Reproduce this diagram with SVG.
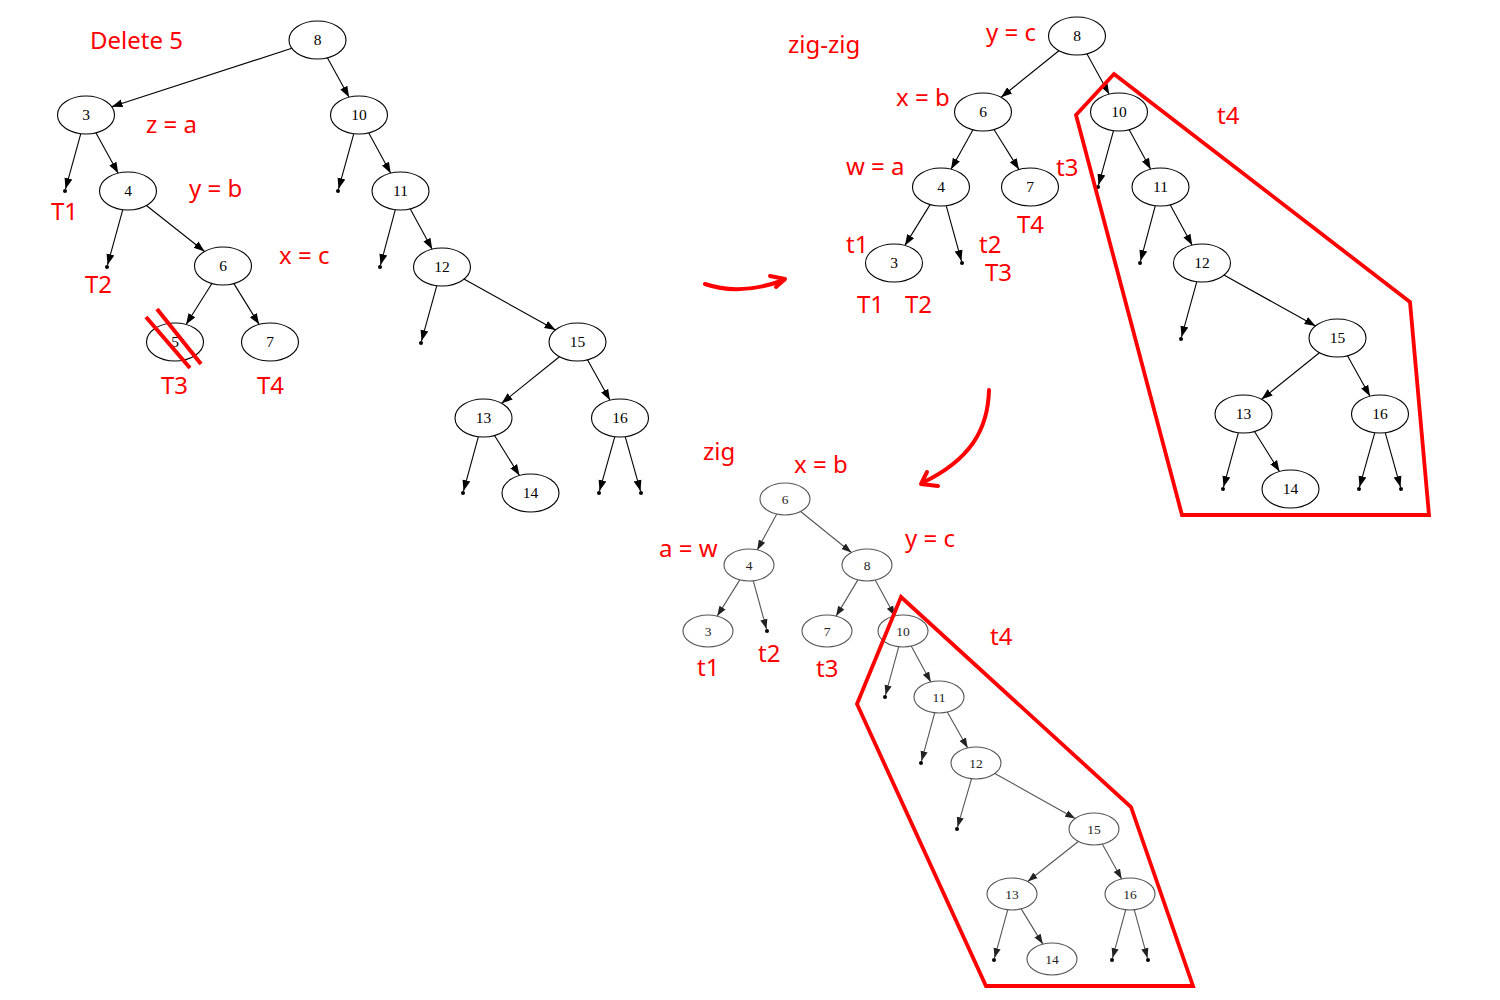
<svg xmlns="http://www.w3.org/2000/svg" width="1500" height="1000" viewBox="0 0 1500 1000">
<style>
.n ellipse{fill:#fff;stroke:#000;stroke-width:1.1}
.n text{font-family:"Liberation Serif","Times New Roman",serif;font-size:15.5px;text-anchor:middle;fill:#000}
.g ellipse{fill:#fff;stroke:#555;stroke-width:1.1}
.g text{font-family:"Liberation Serif","Times New Roman",serif;font-size:13.5px;text-anchor:middle;fill:#222}
.e{stroke:#000;stroke-width:1.1;fill:none;marker-end:url(#ah)}
.eg{stroke:#555;stroke-width:1.1;fill:none;marker-end:url(#ahg)}
.dot{fill:#000}
.lbl{font-family:"Noto Sans","Open Sans","DejaVu Sans",sans-serif;font-size:24px;fill:#ff0000}
.red{stroke:#ff0000;stroke-width:3.8;fill:none;stroke-linejoin:miter}
.rarr{stroke:#ff0000;stroke-width:4;fill:none;stroke-linecap:round;stroke-linejoin:round}
</style>
<defs>
<marker id="ah" markerUnits="userSpaceOnUse" markerWidth="13" markerHeight="10" viewBox="0 -5 13 10" refX="11" refY="0" orient="auto">
<path d="M0,-4 L11,0 L0,4 z" fill="#000"/>
</marker>
<marker id="ahg" markerUnits="userSpaceOnUse" markerWidth="12" markerHeight="10" viewBox="0 -5 12 10" refX="10" refY="0" orient="auto">
<path d="M0,-3.6 L10,0 L0,3.6 z" fill="#222"/>
</marker>
</defs>
<rect width="1500" height="1000" fill="#fff"/>

<!-- ===== Tree A (left) ===== -->
<g id="edgesA">
<line class="e" x1="291.9" y1="48.3" x2="111.6" y2="106.7"/>
<line class="e" x1="327.4" y1="57.8" x2="349.1" y2="97.2"/>
<line class="e" x1="80.8" y1="133.7" x2="65.5" y2="189.1"/>
<line class="e" x1="95.9" y1="132.8" x2="118.2" y2="173.2"/>
<line class="e" x1="122.8" y1="209.7" x2="107.5" y2="265.1"/>
<line class="e" x1="146.4" y1="205.5" x2="204.6" y2="251.5"/>
<line class="e" x1="211.9" y1="283.5" x2="186.1" y2="324.5"/>
<line class="e" x1="233.9" y1="283.6" x2="259.1" y2="324.4"/>
<line class="e" x1="353.8" y1="133.7" x2="338.5" y2="189.1"/>
<line class="e" x1="368.8" y1="132.9" x2="390.7" y2="173.2"/>
<line class="e" x1="395.3" y1="209.7" x2="380.5" y2="265.1"/>
<line class="e" x1="410.3" y1="208.9" x2="432.2" y2="249.2"/>
<line class="e" x1="436.8" y1="285.7" x2="421.5" y2="341.1"/>
<line class="e" x1="463.9" y1="279.1" x2="555.6" y2="329.9"/>
<line class="e" x1="559.4" y1="356.7" x2="501.6" y2="403.3"/>
<line class="e" x1="587.5" y1="359.8" x2="610" y2="400.2"/>
<line class="e" x1="478.4" y1="436.7" x2="463.5" y2="491.1"/>
<line class="e" x1="494.5" y1="435.5" x2="519.5" y2="475.5"/>
<line class="e" x1="614.8" y1="436.7" x2="599.5" y2="491.1"/>
<line class="e" x1="625.2" y1="436.7" x2="640.5" y2="491.1"/>
<circle class="dot" cx="65" cy="191" r="2"/>
<circle class="dot" cx="107" cy="267" r="2"/>
<circle class="dot" cx="338" cy="191" r="2"/>
<circle class="dot" cx="380" cy="267" r="2"/>
<circle class="dot" cx="421" cy="343" r="2"/>
<circle class="dot" cx="463" cy="493" r="2"/>
<circle class="dot" cx="599" cy="493" r="2"/>
<circle class="dot" cx="641" cy="493" r="2"/>
</g>
<g id="a8" class="n"><ellipse cx="317.5" cy="40" rx="28.5" ry="19"/><text x="317.5" y="45.3">8</text></g>
<g id="a3" class="n"><ellipse cx="86" cy="115" rx="28.5" ry="19"/><text x="86" y="120.3">3</text></g>
<g id="a10" class="n"><ellipse cx="359" cy="115" rx="28.5" ry="19"/><text x="359" y="120.3">10</text></g>
<g id="a4" class="n"><ellipse cx="128" cy="191" rx="28.5" ry="19"/><text x="128" y="196.3">4</text></g>
<g id="a11" class="n"><ellipse cx="400.5" cy="191" rx="28.5" ry="19"/><text x="400.5" y="196.3">11</text></g>
<g id="a6" class="n"><ellipse cx="223" cy="266" rx="28.5" ry="19"/><text x="223" y="271.3">6</text></g>
<g id="a12" class="n"><ellipse cx="442" cy="267" rx="28.5" ry="19"/><text x="442" y="272.3">12</text></g>
<g id="a5" class="n"><ellipse cx="175" cy="342" rx="28.5" ry="19"/><text x="175" y="347.3">5</text></g>
<g id="a7" class="n"><ellipse cx="270" cy="342" rx="28.5" ry="19"/><text x="270" y="347.3">7</text></g>
<g id="a15" class="n"><ellipse cx="577.5" cy="342" rx="28.5" ry="19"/><text x="577.5" y="347.3">15</text></g>
<g id="a13" class="n"><ellipse cx="483.5" cy="418" rx="28.5" ry="19"/><text x="483.5" y="423.3">13</text></g>
<g id="a16" class="n"><ellipse cx="620" cy="418" rx="28.5" ry="19"/><text x="620" y="423.3">16</text></g>
<g id="a14" class="n"><ellipse cx="530.5" cy="493" rx="28.5" ry="19"/><text x="530.5" y="498.3">14</text></g>

<g id="strike5">
<line class="rarr" style="stroke-linecap:butt" x1="146" y1="317" x2="190" y2="368"/>
<line class="rarr" style="stroke-linecap:butt" x1="157" y1="309" x2="201" y2="364"/>
</g>

<g id="labelsA">
<text class="lbl" x="90" y="49">Delete 5</text>
<text class="lbl" x="146" y="133">z = a</text>
<text class="lbl" x="189" y="197">y = b</text>
<text class="lbl" x="51" y="220">T1</text>
<text class="lbl" x="85" y="293">T2</text>
<text class="lbl" x="279" y="264">x = c</text>
<text class="lbl" x="161" y="394">T3</text>
<text class="lbl" x="257" y="394">T4</text>
</g>

<!-- ===== Red transition arrows ===== -->
<g id="arrows">
<path class="rarr" d="M705,284 Q740,296 784,280"/>
<path class="rarr" d="M770,276 L785,279 L776,287"/>
<path class="rarr" d="M989,390 C988,430 970,460 922,483"/>
<path class="rarr" d="M927,472 L921,484 L938,486"/>
</g>

<!-- ===== Tree B (top right, zig-zig) ===== -->
<g id="edgesB">
<line class="e" x1="1058.9" y1="50.7" x2="1001.1" y2="97.3"/>
<line class="e" x1="1086.9" y1="53.8" x2="1109.2" y2="94.2"/>
<line class="e" x1="973" y1="129.8" x2="951" y2="169.2"/>
<line class="e" x1="994" y1="129.5" x2="1019" y2="169.5"/>
<line class="e" x1="930.1" y1="204.6" x2="904.9" y2="245.4"/>
<line class="e" x1="946.2" y1="205.7" x2="961.5" y2="261.1"/>
<line class="e" x1="1113.8" y1="129.7" x2="1098.5" y2="185.1"/>
<line class="e" x1="1128.8" y1="128.9" x2="1150.7" y2="169.2"/>
<line class="e" x1="1155.3" y1="205.7" x2="1140.5" y2="261.1"/>
<line class="e" x1="1170.3" y1="204.9" x2="1192.2" y2="245.2"/>
<line class="e" x1="1196.8" y1="281.7" x2="1181.5" y2="337.1"/>
<line class="e" x1="1223.9" y1="275.1" x2="1315.6" y2="325.9"/>
<line class="e" x1="1319.4" y1="352.7" x2="1261.6" y2="399.3"/>
<line class="e" x1="1347.5" y1="355.8" x2="1370" y2="396.2"/>
<line class="e" x1="1238.4" y1="432.7" x2="1223.5" y2="487.1"/>
<line class="e" x1="1254.5" y1="431.5" x2="1279.5" y2="471.5"/>
<line class="e" x1="1374.8" y1="432.7" x2="1359.5" y2="487.1"/>
<line class="e" x1="1385.2" y1="432.7" x2="1400.5" y2="487.1"/>
<circle class="dot" cx="962" cy="263" r="2"/>
<circle class="dot" cx="1098" cy="187" r="2"/>
<circle class="dot" cx="1140" cy="263" r="2"/>
<circle class="dot" cx="1181" cy="339" r="2"/>
<circle class="dot" cx="1223" cy="489" r="2"/>
<circle class="dot" cx="1359" cy="489" r="2"/>
<circle class="dot" cx="1401" cy="489" r="2"/>
</g>
<g id="b8" class="n"><ellipse cx="1077" cy="36" rx="28.5" ry="19"/><text x="1077" y="41.3">8</text></g>
<g id="b6" class="n"><ellipse cx="983" cy="112" rx="28.5" ry="19"/><text x="983" y="117.3">6</text></g>
<g id="b10" class="n"><ellipse cx="1119" cy="112" rx="28.5" ry="19"/><text x="1119" y="117.3">10</text></g>
<g id="b4" class="n"><ellipse cx="941" cy="187" rx="28.5" ry="19"/><text x="941" y="192.3">4</text></g>
<g id="b7" class="n"><ellipse cx="1030" cy="187" rx="28.5" ry="19"/><text x="1030" y="192.3">7</text></g>
<g id="b11" class="n"><ellipse cx="1160.5" cy="187" rx="28.5" ry="19"/><text x="1160.5" y="192.3">11</text></g>
<g id="b3" class="n"><ellipse cx="894" cy="263" rx="28.5" ry="19"/><text x="894" y="268.3">3</text></g>
<g id="b12" class="n"><ellipse cx="1202" cy="263" rx="28.5" ry="19"/><text x="1202" y="268.3">12</text></g>
<g id="b15" class="n"><ellipse cx="1337.5" cy="338" rx="28.5" ry="19"/><text x="1337.5" y="343.3">15</text></g>
<g id="b13" class="n"><ellipse cx="1243.5" cy="414" rx="28.5" ry="19"/><text x="1243.5" y="419.3">13</text></g>
<g id="b16" class="n"><ellipse cx="1380" cy="414" rx="28.5" ry="19"/><text x="1380" y="419.3">16</text></g>
<g id="b14" class="n"><ellipse cx="1290.5" cy="489" rx="28.5" ry="19"/><text x="1290.5" y="494.3">14</text></g>

<polygon id="t4top" class="red" points="1114,74 1410,302 1429,515 1182,515 1076,115"/>

<g id="labelsB">
<text class="lbl" x="788" y="53">zig-zig</text>
<text class="lbl" x="986" y="41">y = c</text>
<text class="lbl" x="896" y="106">x = b</text>
<text class="lbl" x="846" y="175">w = a</text>
<text class="lbl" x="1056" y="176">t3</text>
<text class="lbl" x="1217" y="124">t4</text>
<text class="lbl" x="1017" y="233">T4</text>
<text class="lbl" x="846" y="253">t1</text>
<text class="lbl" x="979" y="253">t2</text>
<text class="lbl" x="985" y="281">T3</text>
<text class="lbl" x="857" y="313">T1</text>
<text class="lbl" x="905" y="313">T2</text>
</g>

<!-- ===== Tree C (bottom, zig) ===== -->
<g id="edgesC">
<line class="eg" x1="776.8" y1="514.1" x2="757.2" y2="549.9"/>
<line class="eg" x1="800.6" y1="511.5" x2="851.4" y2="552.5"/>
<line class="eg" x1="739.8" y1="579.9" x2="717.2" y2="616.1"/>
<line class="eg" x1="753.3" y1="580.8" x2="766.5" y2="629.1"/>
<line class="eg" x1="857.9" y1="579.9" x2="836.1" y2="616.1"/>
<line class="eg" x1="875.2" y1="580.1" x2="894.8" y2="615.9"/>
<line class="eg" x1="898.7" y1="646.8" x2="885.5" y2="695.1"/>
<line class="eg" x1="911.2" y1="646.1" x2="930.8" y2="681.9"/>
<line class="eg" x1="934.7" y1="712.8" x2="921.5" y2="761.1"/>
<line class="eg" x1="947.3" y1="712.1" x2="967.7" y2="747.9"/>
<line class="eg" x1="971.5" y1="778.8" x2="957.5" y2="827.1"/>
<line class="eg" x1="994.8" y1="773.5" x2="1075.2" y2="818.5"/>
<line class="eg" x1="1078.3" y1="841.5" x2="1027.7" y2="881.5"/>
<line class="eg" x1="1102.3" y1="844.1" x2="1121.7" y2="878.9"/>
<line class="eg" x1="1007.7" y1="909.8" x2="994.5" y2="958.1"/>
<line class="eg" x1="1021.2" y1="908.9" x2="1042.8" y2="944.1"/>
<line class="eg" x1="1125.7" y1="909.8" x2="1112.5" y2="958.1"/>
<line class="eg" x1="1134.3" y1="909.8" x2="1147.5" y2="958.1"/>
<circle class="dot" cx="767" cy="631" r="2"/>
<circle class="dot" cx="885" cy="697" r="2"/>
<circle class="dot" cx="921" cy="763" r="2"/>
<circle class="dot" cx="957" cy="829" r="2"/>
<circle class="dot" cx="994" cy="960" r="2"/>
<circle class="dot" cx="1112" cy="960" r="2"/>
<circle class="dot" cx="1148" cy="960" r="2"/>
</g>
<g id="c6" class="g"><ellipse cx="785" cy="499" rx="25" ry="16"/><text x="785" y="503.6">6</text></g>
<g id="c4" class="g"><ellipse cx="749" cy="565" rx="25" ry="16"/><text x="749" y="569.6">4</text></g>
<g id="c8" class="g"><ellipse cx="867" cy="565" rx="25" ry="16"/><text x="867" y="569.6">8</text></g>
<g id="c3" class="g"><ellipse cx="708" cy="631" rx="25" ry="16"/><text x="708" y="635.6">3</text></g>
<g id="c7" class="g"><ellipse cx="827" cy="631" rx="25" ry="16"/><text x="827" y="635.6">7</text></g>
<g id="c10" class="g"><ellipse cx="903" cy="631" rx="25" ry="16"/><text x="903" y="635.6">10</text></g>
<g id="c11" class="g"><ellipse cx="939" cy="697" rx="25" ry="16"/><text x="939" y="701.6">11</text></g>
<g id="c12" class="g"><ellipse cx="976" cy="763" rx="25" ry="16"/><text x="976" y="767.6">12</text></g>
<g id="c15" class="g"><ellipse cx="1094" cy="829" rx="25" ry="16"/><text x="1094" y="833.6">15</text></g>
<g id="c13" class="g"><ellipse cx="1012" cy="894" rx="25" ry="16"/><text x="1012" y="898.6">13</text></g>
<g id="c16" class="g"><ellipse cx="1130" cy="894" rx="25" ry="16"/><text x="1130" y="898.6">16</text></g>
<g id="c14" class="g"><ellipse cx="1052" cy="959" rx="25" ry="16"/><text x="1052" y="963.6">14</text></g>

<polygon id="t4bottom" class="red" points="901,597 1131,807 1193,986 986,986 857,704"/>

<g id="labelsC">
<text class="lbl" x="703" y="460">zig</text>
<text class="lbl" x="794" y="473">x = b</text>
<text class="lbl" x="659" y="557">a = w</text>
<text class="lbl" x="905" y="547">y = c</text>
<text class="lbl" x="990" y="645">t4</text>
<text class="lbl" x="697" y="676">t1</text>
<text class="lbl" x="758" y="662">t2</text>
<text class="lbl" x="816" y="677">t3</text>
</g>
</svg>
